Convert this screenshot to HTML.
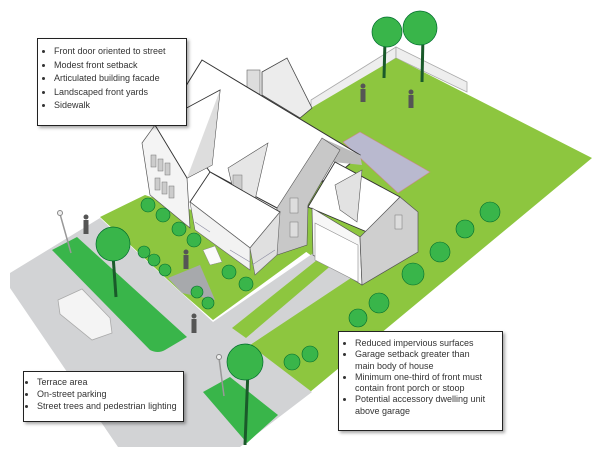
<!DOCTYPE html>
<html><head><meta charset="utf-8"><style>
html,body{margin:0;padding:0;background:#fff;width:600px;height:461px;overflow:hidden}
.box{position:absolute;background:#fff;border:1.5px solid #222;box-shadow:2px 2px 3px rgba(0,0,0,.35);font-family:"Liberation Sans",sans-serif;font-size:9px;color:#333;line-height:13.5px}
.box ul{margin:0;padding:0 0 0 16px}
.box li{margin:0;padding:0}
</style></head><body>
<svg width="600" height="461" viewBox="0 0 600 461" style="position:absolute;left:0;top:0">
<g stroke="#aaa" stroke-width="0.8">
<polygon points="311,100 396,47 396,58 311,112" fill="#eee"/>
<polygon points="396,47 467,82 467,92 396,58" fill="#eee"/>
</g>
<polygon points="250,140 311,108 396,58 592,158 304,397 250,345 355,272 320,262 290,240" fill="#8dc63f"/>
<polygon points="10,273 100,218 213,322 315,252 360,272 250,345 312,392 240,447 118,447 10,288" fill="#d2d3d5"/>
<polygon points="232,328 322,256 334,263 246,338" fill="#8dc63f"/>
<path d="M52,250 L77,237 L187,337 L165,350 Q158,354 150,350 Z" fill="#39b54a"/>
<path d="M203,392 L230,377 L278,415 L247,443 Z" fill="#39b54a"/>
<polygon points="100,217 145,195 270,235 313,247 213,320 182,293" fill="#8dc63f"/>
<polygon points="168,278 200,265 215,300 182,293" fill="#a7a9ac"/>
<polygon points="343,142 360,132 430,172 398,193" fill="#b9b9cf" stroke="#c88" stroke-width="0.6"/>
<polygon points="262,72 287,58 312,108 300,118 262,95" fill="#ececec" stroke="#444" stroke-width="0.8"/>
<rect x="247" y="70" width="13" height="24" fill="#ddd" stroke="#666" stroke-width="0.6"/>
<polygon points="202,60 360,155 345,168 277,208 210,172 168,115" fill="#fff" stroke="#333" stroke-width="1"/>
<polygon points="322,138 360,155 362,165 333,162" fill="#bbb"/>
<polygon points="322,138 340,150 333,162 308,205 307,245 277,255 277,208" fill="#c8c8c8" stroke="#555" stroke-width="0.6"/>
<polygon points="142,143 155,125 187,178 190,228 150,195" fill="#f4f4f4" stroke="#555" stroke-width="0.7"/>
<g fill="#ccc" stroke="#777" stroke-width="0.5">
<rect x="151" y="155" width="5" height="12"/><rect x="158" y="159" width="5" height="12"/><rect x="165" y="163" width="5" height="12"/>
<rect x="155" y="178" width="5" height="12"/><rect x="162" y="182" width="5" height="12"/><rect x="169" y="186" width="5" height="12"/>
</g>
<polygon points="155,125 220,90 212,165 187,178" fill="#fff" stroke="#333" stroke-width="0.9"/>
<polygon points="220,90 212,165 187,178" fill="#ddd"/>
<polygon points="228,168 268,143 255,200 232,185" fill="#e6e6e6" stroke="#555" stroke-width="0.6"/>
<rect x="233" y="175" width="9" height="18" fill="#ccc" stroke="#777" stroke-width="0.5"/>
<polygon points="190,202 210,172 280,212 250,248" fill="#fff" stroke="#333" stroke-width="0.9"/>
<polygon points="190,202 250,248 250,270 195,230" fill="#f2f2f2" stroke="#666" stroke-width="0.6"/>
<polygon points="250,248 280,212 277,255 255,275" fill="#e0e0e0" stroke="#666" stroke-width="0.6"/>
<g stroke="#8a8aa0" stroke-width="0.6">
<line x1="195" y1="222" x2="210" y2="232"/><line x1="230" y1="250" x2="250" y2="262"/><line x1="252" y1="265" x2="275" y2="250"/>
</g>
<polygon points="203,250 215,246 222,262 210,265" fill="#fafafa" stroke="#888" stroke-width="0.5"/>
<g fill="#ddd" stroke="#777" stroke-width="0.5">
<rect x="290" y="198" width="8" height="15"/><rect x="290" y="222" width="8" height="15"/>
</g>
<polygon points="308,207 335,162 400,197 367,232" fill="#fff" stroke="#333" stroke-width="0.9"/>
<polygon points="335,185 362,170 357,222 340,210" fill="#e2e2e2" stroke="#555" stroke-width="0.6"/>
<polygon points="312,208 360,237 362,285 313,255" fill="#f7f7f7" stroke="#555" stroke-width="0.7"/>
<polygon points="315,223 358,245 358,282 315,260" fill="#fff" stroke="#888" stroke-width="0.6"/>
<polygon points="360,237 400,197 418,212 418,252 362,285" fill="#cfcfcf" stroke="#555" stroke-width="0.7"/>
<rect x="395" y="215" width="7" height="14" fill="#ddd" stroke="#777" stroke-width="0.5"/>
<polygon points="58,300 82,289 110,318 112,333 92,340 60,314" fill="#f4f4f4" stroke="#aaa" stroke-width="0.8"/>
<g fill="#39b54a" stroke="#006b2d" stroke-width="0.6">
<circle cx="148" cy="205" r="7"/><circle cx="163" cy="215" r="7"/><circle cx="179" cy="229" r="7"/><circle cx="194" cy="240" r="7"/>
<circle cx="144" cy="252" r="6"/><circle cx="154" cy="260" r="6"/><circle cx="165" cy="270" r="6"/><circle cx="229" cy="272" r="7"/><circle cx="246" cy="284" r="7"/>
<circle cx="197" cy="292" r="6"/><circle cx="208" cy="303" r="6"/><circle cx="490" cy="212" r="10"/><circle cx="465" cy="229" r="9"/><circle cx="440" cy="252" r="10"/>
<circle cx="413" cy="274" r="11"/><circle cx="379" cy="303" r="10"/><circle cx="358" cy="318" r="9"/><circle cx="310" cy="354" r="8"/><circle cx="292" cy="362" r="8"/>
</g>
<g stroke="#1a5a2a" stroke-width="3"><line x1="385" y1="40" x2="384" y2="78"/><line x1="423" y1="35" x2="422" y2="82"/><line x1="113" y1="255" x2="116" y2="297"/><line x1="248" y1="370" x2="245" y2="445"/></g>
<g fill="#39b54a" stroke="#006b2d" stroke-width="0.7">
<circle cx="387" cy="32" r="15"/><circle cx="420" cy="28" r="17"/><circle cx="113" cy="244" r="17"/><circle cx="245" cy="362" r="18"/>
</g>
<g stroke="#999" stroke-width="1.5"><line x1="60" y1="214" x2="71" y2="253"/><line x1="219" y1="358" x2="224" y2="396"/></g>
<circle cx="60" cy="213" r="2.5" fill="#eee" stroke="#888"/><circle cx="219" cy="357" r="2.5" fill="#eee" stroke="#888"/>
<g fill="#555">
<circle cx="86" cy="217" r="2.5"/><rect x="83.5" y="220" width="5" height="14"/>
<circle cx="363" cy="86" r="2.5"/><rect x="360.5" y="89" width="5" height="13"/>
<circle cx="411" cy="92" r="2.5"/><rect x="408.5" y="95" width="5" height="13"/>
<circle cx="186" cy="252" r="2.5"/><rect x="183.5" y="255" width="5" height="14"/>
<circle cx="194" cy="316" r="2.5"/><rect x="191.5" y="319" width="5" height="14"/>
</g>
</svg>
<div class="box" style="left:37px;top:38px;width:148px;height:80px;padding-top:6px"><ul><li>Front door oriented to street</li><li>Modest front setback</li><li>Articulated building facade</li><li>Landscaped front yards</li><li>Sidewalk</li></ul></div>
<div class="box" style="left:338px;top:331px;width:150px;height:92px;padding:6px 13px 0 0;line-height:11.3px"><ul><li>Reduced impervious surfaces</li><li>Garage setback greater than main body of house</li><li>Minimum one-third of front must contain front porch or stoop</li><li>Potential accessory dwelling unit above garage</li></ul></div>
<div class="box" style="left:23px;top:371px;width:159px;height:45px;padding-top:4px;line-height:12px"><ul style="padding-left:13px"><li>Terrace area</li><li>On-street parking</li><li>Street trees and pedestrian lighting</li></ul></div>
</body></html>
